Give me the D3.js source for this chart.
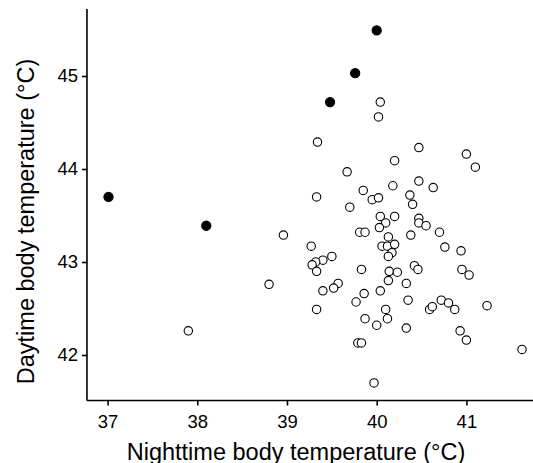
<!DOCTYPE html>
<html>
<head>
    <meta charset="utf-8">
    <script src="https://d3js.org/d3.v7.min.js"></script>
    <style>
        body { margin: 0; background: #fff; }
        text { font-family: "Liberation Sans", Arial, sans-serif; fill: #000; }
    </style>
</head>
<body>
<div id="chart"></div>
<script>
    // open circles: nighttime / daytime body temperature
    var nightOpen = [40.04, 40.02, 39.34, 40.47, 40.20, 39.67, 40.47, 40.63, 39.85, 39.33,
        39.95, 40.02, 40.18, 40.37, 40.40, 39.70, 40.04, 40.20, 40.47, 40.47,
        40.55, 40.10, 40.03, 40.70, 38.96, 39.81, 39.87, 40.13, 40.38, 39.27,
        40.06, 40.12, 40.20, 40.17, 40.13, 40.76, 40.94, 39.50, 39.40, 39.32,
        39.28, 39.33, 39.83, 40.14, 40.23, 40.42, 40.46, 40.95, 41.03, 40.13,
        40.33, 39.57, 39.52, 39.40, 40.04, 39.86, 39.77, 40.35, 39.33, 40.10,
        40.12, 39.87, 40.00, 40.33, 40.59, 40.62, 40.72, 40.80, 40.87, 40.93,
        41.00, 39.79, 39.83, 39.97, 41.00, 41.10, 41.23, 41.62, 38.80, 37.90];
    var dayOpen = [44.72, 44.56, 44.29, 44.23, 44.09, 43.97, 43.87, 43.80, 43.77, 43.70,
        43.67, 43.69, 43.82, 43.72, 43.62, 43.59, 43.49, 43.49, 43.47, 43.42,
        43.39, 43.42, 43.37, 43.32, 43.29, 43.32, 43.32, 43.27, 43.29, 43.17,
        43.17, 43.17, 43.19, 43.10, 43.06, 43.16, 43.12, 43.06, 43.02, 43.00,
        42.97, 42.90, 42.92, 42.90, 42.89, 42.96, 42.92, 42.92, 42.86, 42.80,
        42.77, 42.77, 42.72, 42.69, 42.69, 42.66, 42.57, 42.59, 42.49, 42.49,
        42.39, 42.39, 42.32, 42.29, 42.49, 42.52, 42.59, 42.56, 42.49, 42.26,
        42.16, 42.13, 42.13, 41.70, 44.16, 44.02, 42.53, 42.06, 42.76, 42.26];
    // filled circles
    var nightFilled = [37.01, 38.10, 39.48, 39.76, 40.00];
    var dayFilled = [43.70, 43.39, 44.72, 45.03, 45.49];

    var xTicks = [37, 38, 39, 40, 41];
    var yTicks = [42, 43, 44, 45];
    var xLabel = "Nighttime body temperature (°C)";
    var yLabel = "Daytime body temperature (°C)";

    var width = 533, height = 463;
    var svg = d3.select("#chart").append("svg")
        .attr("width", width)
        .attr("height", height);

    var x = d3.scaleLinear().domain([37, 41]).range([107.6, 466.4]);
    var y = d3.scaleLinear().domain([42, 45]).range([355, 76]);
    var xMin = 36.77, xMax = 41.9, yMin = 41.51, yMax = 45.72;

    var open = nightOpen.map(function (d, i) { return { x: d, y: dayOpen[i] }; });
    var filled = nightFilled.map(function (d, i) { return { x: d, y: dayFilled[i] }; });

    // axes
    var xAxis = svg.append("g")
        .attr("transform", "translate(0," + y(yMin) + ")")
        .call(d3.axisBottom(x).tickValues(xTicks).tickFormat(d3.format("d")).tickSize(5).tickPadding(9));
    xAxis.select(".domain").attr("d", "M" + x(xMin) + ",0H" + x(xMax));
    var yAxis = svg.append("g")
        .attr("transform", "translate(" + x(xMin) + ",0)")
        .call(d3.axisLeft(y).tickValues(yTicks).tickFormat(d3.format("d")).tickSize(5).tickPadding(4));
    yAxis.select(".domain").attr("d", "M0," + y(yMax) + "V" + y(yMin));

    svg.selectAll(".domain").attr("stroke", "#000").attr("stroke-width", 1.6);
    svg.selectAll(".tick line").attr("stroke", "#000").attr("stroke-width", 1.6);
    svg.selectAll(".tick text")
        .style("font-family", "'Liberation Sans', Arial, sans-serif")
        .style("font-size", "18.5px")
        .attr("fill", "#000");

    svg.append("text")
        .attr("x", 296)
        .attr("y", 460)
        .attr("text-anchor", "middle")
        .style("font-size", "23.5px")
        .text(xLabel);
    svg.append("text")
        .attr("transform", "translate(34,221.5) rotate(-90)")
        .attr("text-anchor", "middle")
        .style("font-size", "23.5px")
        .text(yLabel);

    // points
    svg.selectAll(".open").data(open).enter().append("circle")
        .attr("class", "open")
        .attr("cx", function (d) { return x(d.x); })
        .attr("cy", function (d) { return y(d.y); })
        .attr("r", 4.2)
        .attr("fill", "#fff")
        .attr("stroke", "#000")
        .attr("stroke-width", 1.1);
    svg.selectAll(".filled").data(filled).enter().append("circle")
        .attr("class", "filled")
        .attr("cx", function (d) { return x(d.x); })
        .attr("cy", function (d) { return y(d.y); })
        .attr("r", 4.6)
        .attr("fill", "#000")
        .attr("stroke", "#000")
        .attr("stroke-width", 1.1);
</script>
</body>
</html>
